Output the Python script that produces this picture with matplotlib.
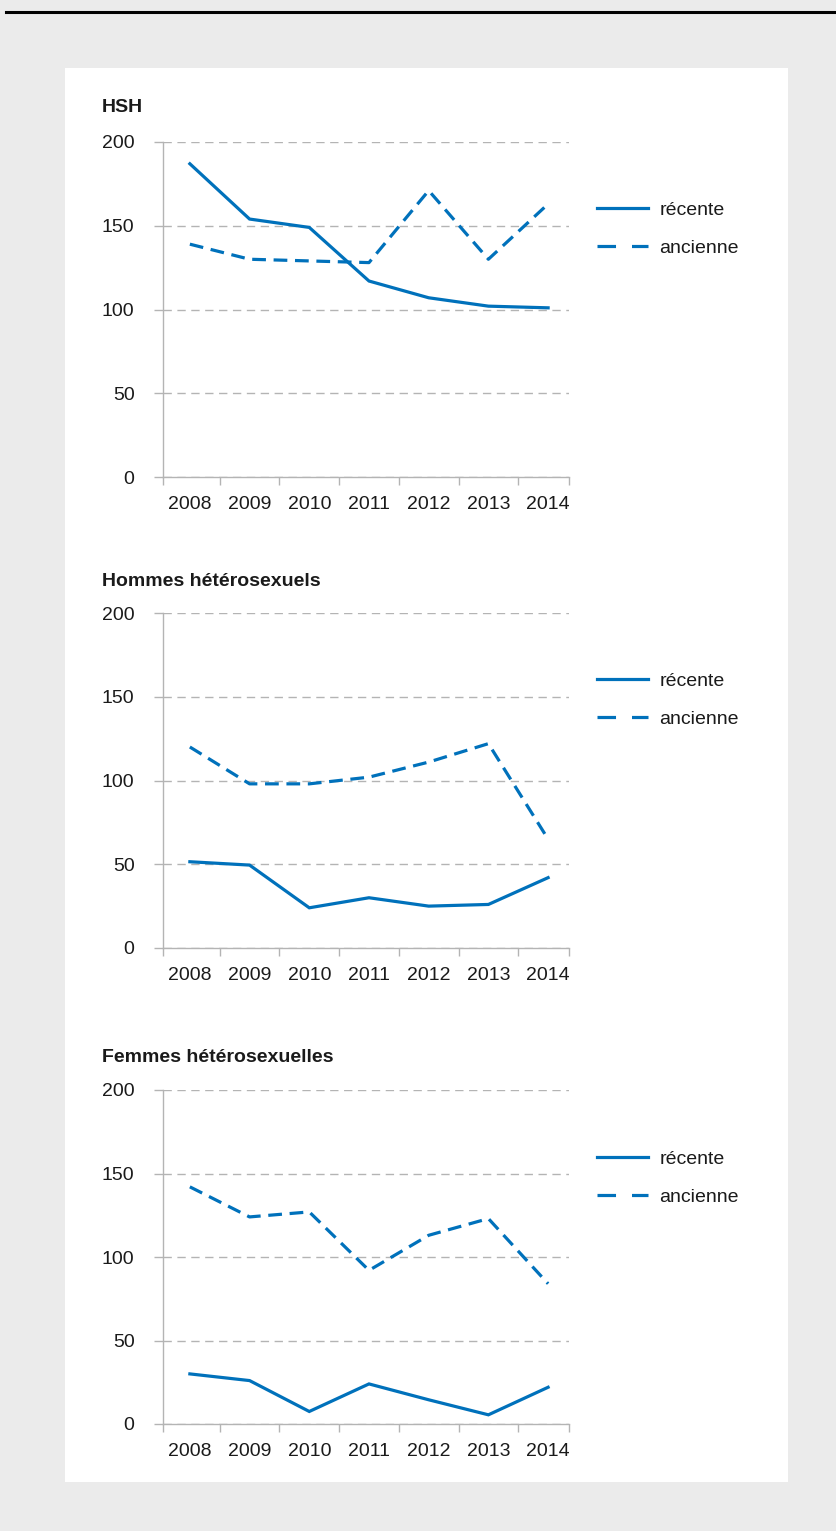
import matplotlib.pyplot as plt
from matplotlib.lines import Line2D
from matplotlib.patches import Rectangle

plt.rcParams['font.family'] = ['Liberation Sans', 'DejaVu Sans']

years = ['2008', '2009', '2010', '2011', '2012', '2013', '2014']
titles = ['HSH', 'Hommes hétérosexuels', 'Femmes hétérosexuelles']
recente = [
    [187, 154, 149, 117, 107, 102, 101],
    [51.5, 49.5, 24, 30, 25, 26, 42],
    [30, 26, 7.5, 24, 14.5, 5.5, 22],
]
ancienne = [
    [139, 130, 129, 128, 171, 130, 163],
    [120, 98, 98, 102, 111, 122, 65],
    [142, 124, 127, 92, 113, 123, 84],
]

W, H = 837, 1531
blue = '#0071bb'
grid = '#b4b4b4'
txt = '#1a1a1a'
fs = 14

fig = plt.figure(figsize=(W / 100, H / 100), dpi=100, facecolor='#ebebeb')
fig.add_artist(Line2D([6 / W, 1], [1 - 12 / H] * 2, color='black', lw=2.2,
                      transform=fig.transFigure))
fig.add_artist(Rectangle((65 / W, 1 - 1482 / H), 723 / W, 1414 / H,
                         facecolor='white', edgecolor='none',
                         transform=fig.transFigure, zorder=0))

# axes pixel positions: (top, bottom), title y, legend top y
tops = [(142, 477), (613, 948), (1090, 1424)]
title_y = [108, 582, 1058]
leg_y = [201, 672, 1150]

for i in range(3):
    top, bot = tops[i]
    ax = fig.add_axes([163 / W, 1 - bot / H, 406 / W, (bot - top) / H])
    ax.patch.set_alpha(0)
    x = list(range(len(years)))
    ax.plot(x, recente[i], color=blue, lw=2.3, solid_joinstyle='miter')
    ax.plot(x, ancienne[i], color=blue, lw=2.3, dashes=(4.3, 2.4),
            dash_capstyle='butt')
    ax.set_ylim(0, 200)
    ax.set_xlim(-0.45, 6.35)
    ax.set_yticks([0, 50, 100, 150, 200])
    ax.set_xticks(x)
    ax.set_xticklabels(years)
    ax.set_xticks([-0.45] + [k + 0.5 for k in range(6)] + [6.35], minor=True)
    ax.tick_params(axis='x', which='major', length=0, pad=14, labelsize=fs,
                   labelcolor=txt)
    ax.tick_params(axis='x', which='minor', length=6, width=1, color=grid,
                   direction='out')
    ax.tick_params(axis='y', length=6.5, width=1, color=grid, pad=14,
                   labelsize=fs, labelcolor=txt)
    for t in ax.get_yticklabels():
        t.set_horizontalalignment('right')
    ax.yaxis.grid(True, color=grid, lw=1, dashes=(6, 4))
    ax.set_axisbelow(True)
    for s in ['top', 'right']:
        ax.spines[s].set_visible(False)
    ax.spines['left'].set_color(grid)
    ax.spines['bottom'].set_color(grid)
    ax.spines['left'].set_linewidth(1)
    ax.spines['bottom'].set_linewidth(1)

    fig.text(102 / W, 1 - title_y[i] / H, titles[i], fontsize=fs,
             fontweight='bold', color=txt, va='center', ha='left')

    handles = [Line2D([], [], color=blue, lw=2.3),
               Line2D([], [], color=blue, lw=2.3, dashes=(5.8, 5),
                      dash_capstyle='butt')]
    ax.legend(handles, ['récente', 'ancienne'], loc='upper left',
              bbox_to_anchor=(597 / W, 1 - leg_y[i] / H),
              bbox_transform=fig.transFigure, frameon=False, fontsize=fs,
              handlelength=2.63, handletextpad=0.57, labelspacing=1.05,
              borderpad=0, borderaxespad=0, labelcolor=txt)

fig.savefig('out.png', dpi=100, facecolor=fig.get_facecolor())
